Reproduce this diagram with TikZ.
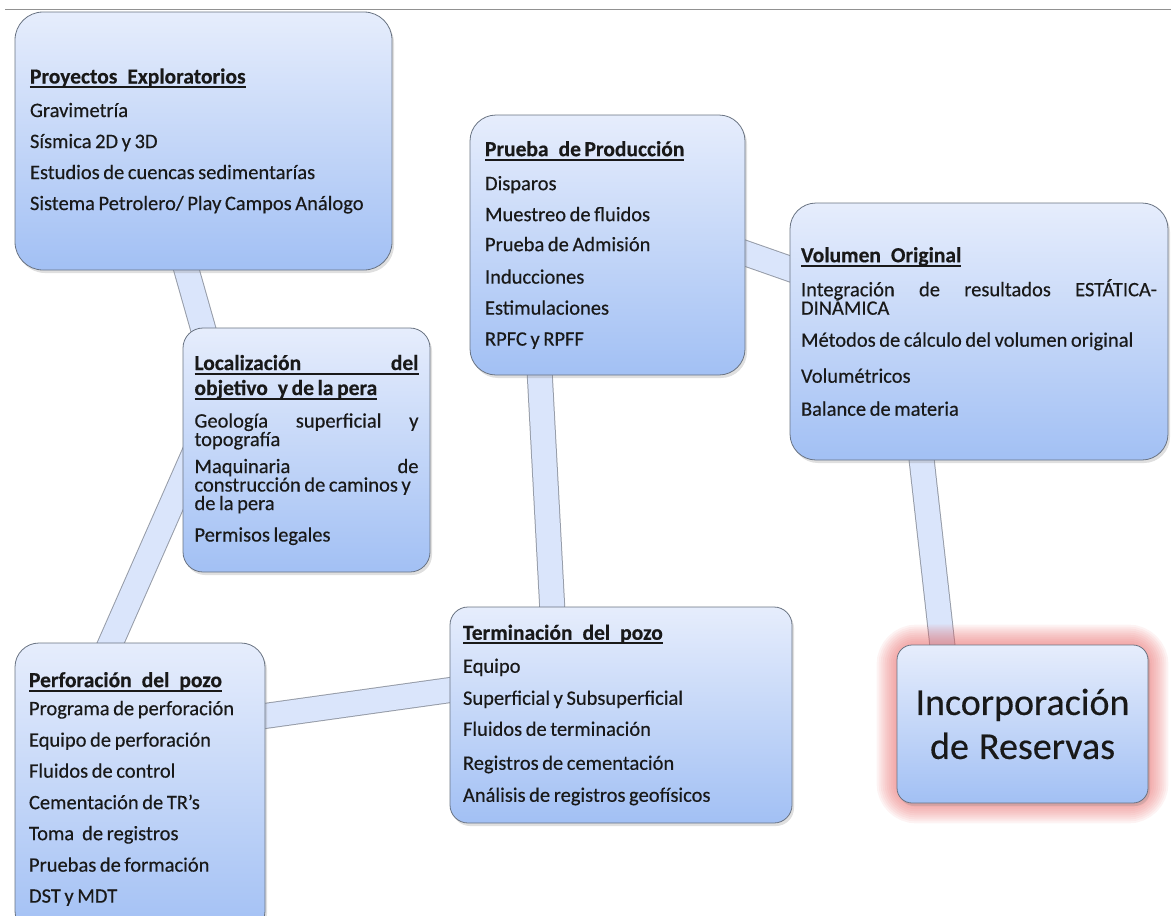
\documentclass[tikz,border=0pt]{standalone}
\usepackage{fontspec}
\setmainfont{Carlito}
\newfontfamily\boxfont{Carlito}[FakeBold=0.35]
\usetikzlibrary{shadows,backgrounds}

\definecolor{boxtop}{RGB}{230,237,252}
\definecolor{boxbot}{RGB}{162,192,244}
\definecolor{boxedge}{RGB}{105,115,130}
\definecolor{bandfill}{RGB}{218,229,251}
\definecolor{bandedge}{RGB}{150,156,168}
\definecolor{glowred}{RGB}{232,100,100}
\definecolor{inktext}{RGB}{25,25,25}
\definecolor{rulegray}{RGB}{145,145,145}

% thick underline for box headings
\newcommand\titleul[1]{\setbox0=\hbox{#1}\leavevmode\rlap{\rule[-4.5pt]{\wd0}{2pt}}\box0}
\newcommand\boxtitle[1]{{\fontsize{21.5}{25}\selectfont\bfseries\titleul{#1}}}
% wide gap used inside headings
\newcommand\wgap{\hspace{10pt}}
% a line spread over the full text width
\newcommand\fullline[1]{\leavevmode\hbox to \linewidth{#1}}

\tikzset{
  infobox/.style={draw=boxedge, line width=0.8pt, top color=boxtop, bottom color=boxbot,
    rounded corners=#1, align=left, inner xsep=0pt, inner ysep=0pt, text=inktext,
    font=\boxfont\fontsize{20.5}{18.5}\selectfont,
    execute at begin node={\lineskiplimit=-50pt\spaceskip=3.6pt plus 3pt minus 1pt\relax},
    drop shadow={shadow xshift=2pt, shadow yshift=-3pt, opacity=0.25}},
  infobox/.default=26pt,
  band/.style={line width=24pt, draw=bandfill, preaction={draw=bandedge, line width=26pt}},
}

\begin{document}
\begin{tikzpicture}[x=1pt, y=-1pt]
\useasboundingbox (0,0) rectangle (1171,916);

% rule along the top edge
\draw[rulegray, line width=1.8pt] (5,9.5) -- (1171,9.5);

\node[infobox=28pt, minimum width=377pt, minimum height=258pt, text width=347pt] (proj) at (203.5,141)
  {\boxtitle{Proyectos\wgap Exploratorios}\\[15pt]
   Gravimetría\\[12.5pt]
   Sísmica 2D y 3D\\[12.5pt]
   Estudios de cuencas sedimentarías\\[12.5pt]
   Sistema Petrolero/ Play Campos Análogo};

\node[infobox=20pt, minimum width=247pt, minimum height=244pt, text width=224pt] (loc) at (306.5,450)
  {\boxtitle{\hbox to 224pt{Localización\hfill del}}\\[6.5pt]
   \boxtitle{objetivo\wgap y de la pera}\\[14pt]
   \fullline{Geología\hfill superficial\hfill y}\\
   topografía\\[8.5pt]
   \fullline{Maquinaria\hfill de}\\
   construcción de caminos y\\
   de la pera\\[13pt]
   Permisos legales};

\node[infobox=26pt, minimum width=275pt, minimum height=260pt, text width=245pt] (prod) at (607.5,245)
  {\boxtitle{Prueba\wgap de Producción}\\[15.5pt]
   Disparos\\[12.5pt]
   Muestreo de fluidos\\[11.5pt]
   Prueba de Admisión\\[14pt]
   Inducciones\\[12.5pt]
   Estimulaciones\\[12.5pt]
   RPFC y RPFF};

\node[infobox=26pt, minimum width=378pt, minimum height=257pt, text width=356pt] (vol) at (979,331.5)
  {\boxtitle{Volumen\wgap Original}\\[15.5pt]
   \fullline{Integración\hfill de\hfill resultados\hfill ESTÁTICA-}\\
   DINÁMICA\\[13.5pt]
   Métodos de cálculo del volumen original\\[17.5pt]
   Volumétricos\\[14.5pt]
   Balance de materia};

\node[infobox=24pt, minimum width=250pt, minimum height=292pt, text width=222pt] (perf) at (140,789)
  {\boxtitle{Perforación\wgap del\wgap pozo}\\[9.5pt]
   Programa de perforación\\[13pt]
   Equipo de perforación\\[12.5pt]
   Fluidos de control\\[13pt]
   Cementación de TR’s\\[12.5pt]
   Toma\hspace{8pt}de registros\\[13pt]
   Pruebas de formación\\[12.5pt]
   DST y MDT};

\node[infobox=18pt, minimum width=342pt, minimum height=216pt, text width=316pt] (term) at (621,715)
  {\boxtitle{Terminación\wgap del\wgap pozo}\\[14.5pt]
   Equipo\\[13.5pt]
   Superficial y Subsuperficial\\[12.5pt]
   Fluidos de terminación\\[15.5pt]
   Registros de cementación\\[13.5pt]
   Análisis de registros geofísicos};

\node[infobox=15pt, minimum width=251pt, minimum height=158pt, text width=240pt, align=center,
      font=\boxfont\fontsize{38}{44}\selectfont,
      execute at begin node={\spaceskip=0pt\relax}] (inc) at (1022.5,724)
  {Incorporación\\de Reservas};

\begin{pgfonlayer}{background}
  % broad connecting bands
  \draw[band] ([shift={(-22,-18)}]proj.south) -- ([shift={(-98,20)}]loc.north);
  \draw[band] ([shift={(17,-9)}]loc.west) -- ([shift={(-37.5,19)}]perf.north);
  \draw[band] ([shift={(-15,-71)}]perf.east) -- ([shift={(15,-27)}]term.west);
  \draw[band] ([shift={(-68.5,-15)}]prod.south) -- ([shift={(-68,15)}]term.north);
  \draw[band] ([shift={(-15,3)}]prod.east) -- ([shift={(15,-57.5)}]vol.west);
  \draw[band] ([shift={(-59,-15)}]vol.south) -- ([shift={(-78.5,15)}]inc.north);
  % soft red glow around the result box
  \foreach \w in {40,36,...,4}
    \draw[glowred, line width=\w pt, opacity=0.075, rounded corners=20pt]
      (inc.south west) rectangle (inc.north east);
\end{pgfonlayer}
\end{tikzpicture}
\end{document}
